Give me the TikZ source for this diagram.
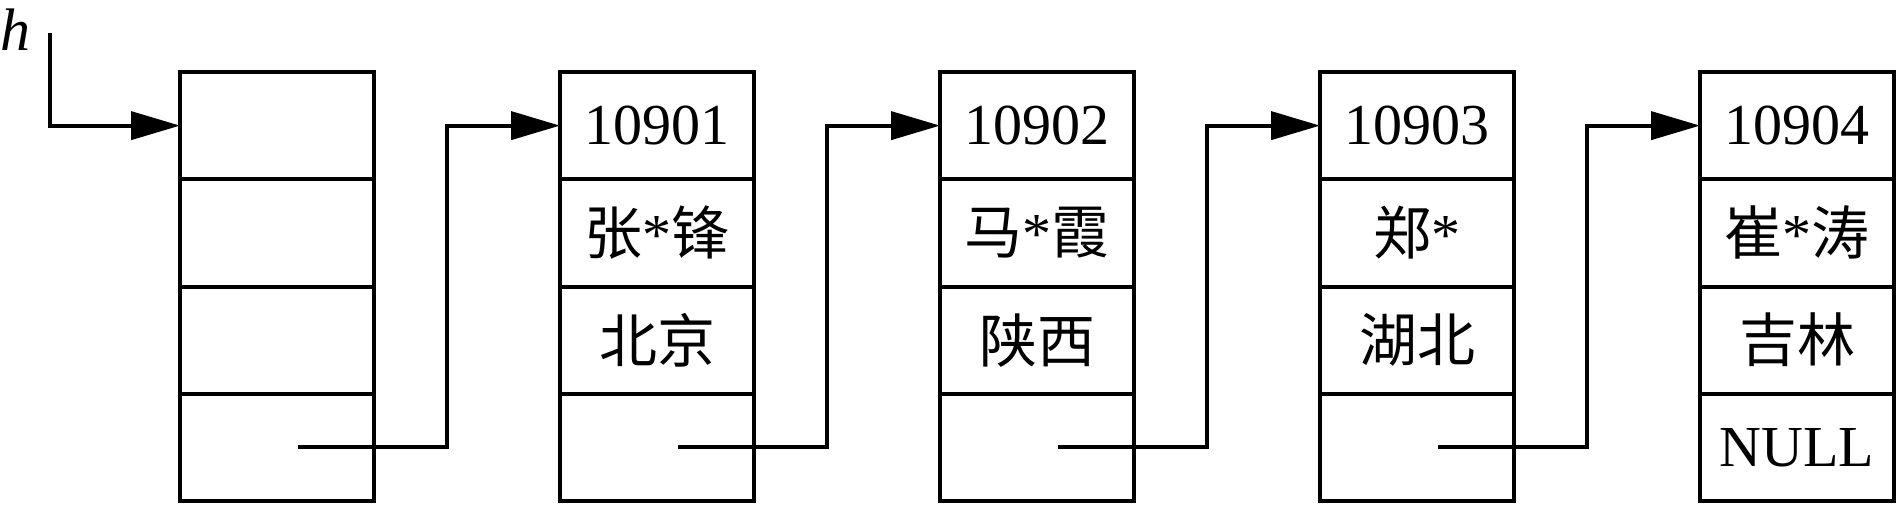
\documentclass[tikz,border=0pt]{standalone}
\usepackage{fontspec}
\setmainfont{Liberation Serif}
\newfontfamily\cjk{Noto Sans CJK SC}
\usetikzlibrary{arrows.meta}
\begin{document}
\begin{tikzpicture}[x=0.5pt,y=-0.5pt,
  cell/.style={draw, line width=2pt, minimum width=97pt, minimum height=53.625pt,
    inner sep=0pt, outer sep=0pt, font=\fontsize{29}{29}\selectfont},
  ptr/.style={line width=2pt, -{Triangle[length=24.5pt,width=14pt]}},
  lbl/.style={inner sep=0pt, font=\fontsize{30}{30}\selectfont\itshape}]
\useasboundingbox (0,0) rectangle (1900,504);
% labels
\node[lbl] (hl) at (16,30) {h};
% box 1
\node[cell] (b1c1) at (277,125.625) {};
\node[cell] (b1c2) at (277,232.875) {};
\node[cell] (b1c3) at (277,340.125) {};
\node[cell] (b1c4) at (277,447.375) {};
% box 2
\node[cell] (b2c1) at (657,125.625) {10901};
\node[cell] (b2c2) at (657,232.875) {{\cjk 张}*{\cjk 锋}};
\node[cell] (b2c3) at (657,340.125) {\cjk 北京};
\node[cell] (b2c4) at (657,447.375) {};
% box 3
\node[cell] (b3c1) at (1037,125.625) {10902};
\node[cell] (b3c2) at (1037,232.875) {{\cjk 马}*{\cjk 霞}};
\node[cell] (b3c3) at (1037,340.125) {\cjk 陕西};
\node[cell] (b3c4) at (1037,447.375) {};
% box 4
\node[cell] (b4c1) at (1417,125.625) {10903};
\node[cell] (b4c2) at (1417,232.875) {{\cjk 郑}*};
\node[cell] (b4c3) at (1417,340.125) {\cjk 湖北};
\node[cell] (b4c4) at (1417,447.375) {};
% box 5
\node[cell] (b5c1) at (1797,125.625) {10904};
\node[cell] (b5c2) at (1797,232.875) {{\cjk 崔}*{\cjk 涛}};
\node[cell] (b5c3) at (1797,340.125) {\cjk 吉林};
\node[cell] (b5c4) at (1797,447.375) {NULL};
% head pointer
\coordinate (h0) at (50,33);
\draw[ptr] (h0) |- (b1c1.west);
% next pointers
\coordinate (s1) at (298,447.375);
\coordinate (s2) at (678,447.375);
\coordinate (s3) at (1058,447.375);
\coordinate (s4) at (1438,447.375);
\draw[ptr] (s1) -- ++(149,0) |- (b2c1.west);
\draw[ptr] (s2) -- ++(149,0) |- (b3c1.west);
\draw[ptr] (s3) -- ++(149,0) |- (b4c1.west);
\draw[ptr] (s4) -- ++(149,0) |- (b5c1.west);
\end{tikzpicture}
\end{document}
